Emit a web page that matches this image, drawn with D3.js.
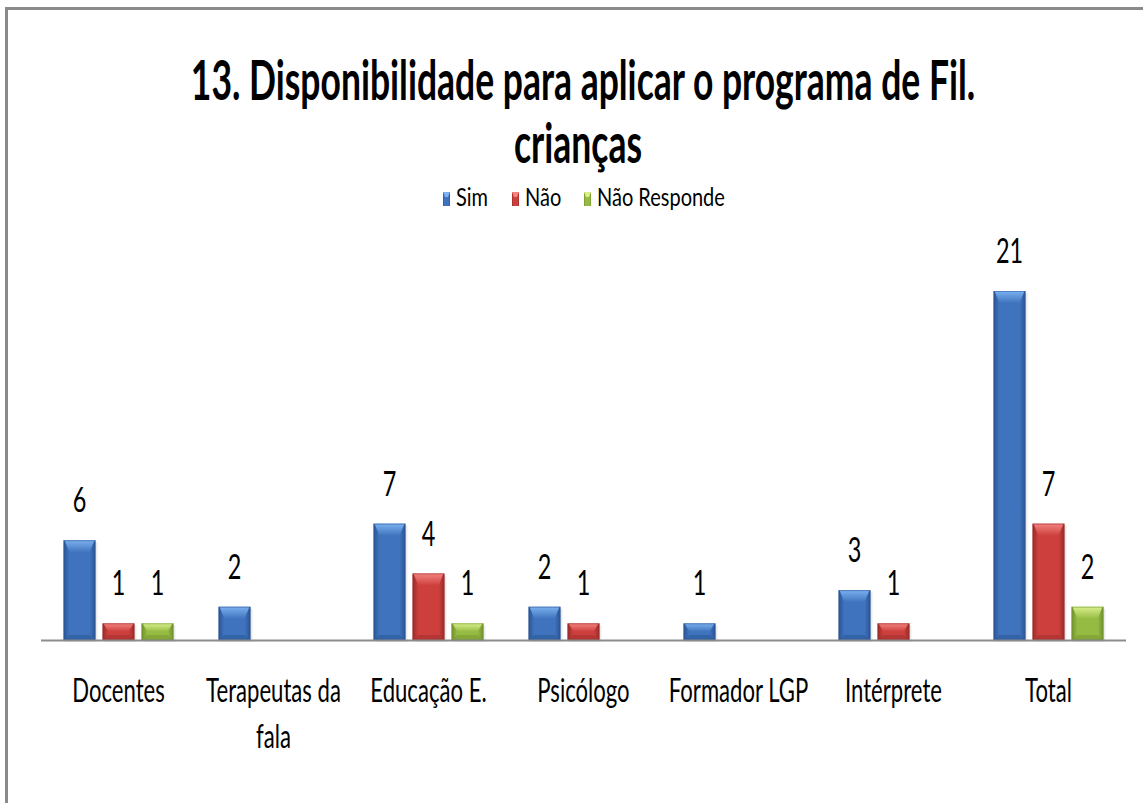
<!DOCTYPE html>
<html>
<head>
<meta charset="utf-8">
<script src="https://cdn.jsdelivr.net/npm/d3@7"></script>
<style>
  body { margin: 0; background: #fff; }
  text { font-family: Lato, "Open Sans", sans-serif; fill: #000; }
</style>
</head>
<body>
<div id="chart"></div>
<script>
var categories = ["Docentes", "Terapeutas da fala", "Educação E.", "Psicólogo", "Formador LGP", "Intérprete", "Total"];
var seriesNames = ["Sim", "Não", "Não Responde"];
var sim = [6, 2, 7, 2, 1, 3, 21];
var nao = [1, null, 4, 1, null, 1, 7];
var naoResponde = [1, null, 1, null, null, null, 2];
var titleLines = ["13. Disponibilidade para aplicar o programa de Fil.", "crianças"];

var W = 1143, H = 803;
var SX = 0.67;      // narrow text, like the original
var SX_TITLE = 0.634;
var SX_LEGEND = 0.8;

var colors = {
    "Sim": { mid: "#3f73bd", dark: "#2a5393", light: "#7bb2f0", base: "#2f5d9e" },
    "Não": { mid: "#cc3f3c", dark: "#972b29", light: "#f48482", base: "#a83331" },
    "Não Responde": { mid: "#96bb43", dark: "#6f8f2c", light: "#d8f08c", base: "#7d9e33" }
};

var svg = d3.select("#chart").append("svg")
    .attr("width", W)
    .attr("height", H);

var defs = svg.append("defs");
seriesNames.forEach(function (s, i) {
    var g = defs.append("linearGradient")
        .attr("id", "grad" + i)
        .attr("x1", "0").attr("x2", "1").attr("y1", "0").attr("y2", "0");
    g.append("stop").attr("offset", "0").attr("stop-color", colors[s].dark);
    g.append("stop").attr("offset", "0.18").attr("stop-color", colors[s].mid);
    g.append("stop").attr("offset", "0.82").attr("stop-color", colors[s].mid);
    g.append("stop").attr("offset", "1").attr("stop-color", colors[s].dark);
    var t = defs.append("linearGradient")
        .attr("id", "top" + i)
        .attr("x1", "0").attr("x2", "0").attr("y1", "0").attr("y2", "1");
    t.append("stop").attr("offset", "0").attr("stop-color", colors[s].light);
    t.append("stop").attr("offset", "1").attr("stop-color", colors[s].mid);
});

// outer frame
svg.append("rect")
    .attr("x", 6.5).attr("y", 8.5)
    .attr("width", W + 10).attr("height", H + 10)
    .attr("fill", "none")
    .attr("stroke", "#8a8a8a")
    .attr("stroke-width", 3);

function narrowText(sel, x, y, str, size, weight, sx) {
    return sel.append("text")
        .attr("transform", "translate(" + x + "," + y + ") scale(" + sx + ",1)")
        .attr("text-anchor", "middle")
        .style("font-size", size + "px")
        .style("font-weight", weight)
        .text(str);
}

// title
narrowText(svg, 583, 100, titleLines[0], 56, "bold", SX_TITLE);
narrowText(svg, 578, 163, titleLines[1], 56, "bold", SX_TITLE);

var data = categories.map(function (c, i) {
    return { cat: c, values: [sim[i], nao[i], naoResponde[i]] };
});

var x0 = d3.scaleBand()
    .domain(categories)
    .range([41, 1126]);

var x1 = d3.scaleBand()
    .domain(seriesNames)
    .range([0, 110])
    .paddingInner(7 / 39);

var y = d3.scaleLinear()
    .domain([0, 21])
    .range([640, 291]);

var groupOffset = (x0.bandwidth() - 110) / 2;

var groups = svg.append("g")
    .selectAll("g")
    .data(data)
    .enter()
    .append("g")
    .attr("transform", function (d) { return "translate(" + (x0(d.cat) + groupOffset) + ",0)"; });

groups.each(function (d) {
    var g = d3.select(this);
    d.values.forEach(function (v, i) {
        if (v == null) return;
        var s = seriesNames[i];
        var bx = x1(s), bw = x1.bandwidth();
        var top = y(v), bot = y(0);
        var h = bot - top;
        var bev = Math.min(bw * 0.38, h / 2);

        // shadow
        g.append("rect")
            .attr("x", bx + 2).attr("y", top + 2)
            .attr("width", bw).attr("height", h)
            .attr("fill", "#000").attr("opacity", 0.08);

        g.append("rect")
            .attr("x", bx).attr("y", top)
            .attr("width", bw).attr("height", h)
            .attr("fill", "url(#grad" + i + ")");

        // top bevel
        g.append("polygon")
            .attr("points", [
                [bx + 1, top], [bx + bw - 1, top],
                [bx + bw - 6, top + bev], [bx + 6, top + bev]
            ].map(function (p) { return p.join(","); }).join(" "))
            .attr("fill", "url(#top" + i + ")");

        // bottom bevel
        g.append("polygon")
            .attr("points", [
                [bx + 1, bot], [bx + bw - 1, bot],
                [bx + bw - 6, bot - Math.min(5, h / 3)], [bx + 6, bot - Math.min(5, h / 3)]
            ].map(function (p) { return p.join(","); }).join(" "))
            .attr("fill", colors[s].base).attr("opacity", 0.7);

        g.append("rect")
            .attr("x", bx + 0.5).attr("y", top + 0.5)
            .attr("width", bw - 1).attr("height", h - 1)
            .attr("fill", "none")
            .attr("stroke", colors[s].dark)
            .attr("stroke-opacity", 0.5);

        narrowText(g, bx + bw / 2, top - 28, v, 35, "normal", SX);
    });
});

// baseline
svg.append("line")
    .attr("x1", 41).attr("x2", 1126)
    .attr("y1", y(0) + 0.5).attr("y2", y(0) + 0.5)
    .attr("stroke", "#8c8c8c")
    .attr("stroke-width", 2);

// category labels
var catWrap = { "Terapeutas da fala": ["Terapeutas da", "fala"] };
categories.forEach(function (c) {
    var lines = catWrap[c] || [c];
    lines.forEach(function (l, k) {
        narrowText(svg, x0(c) + x0.bandwidth() / 2, 702 + k * 46, l, 33, "normal", SX);
    });
});

// legend
var legendX = [443, 512, 584];
seriesNames.forEach(function (s, i) {
    var lg = svg.append("g").attr("transform", "translate(" + legendX[i] + ",0)");
    lg.append("rect")
        .attr("x", 0).attr("y", 192)
        .attr("width", 7).attr("height", 14)
        .attr("fill", "url(#grad" + i + ")");
    lg.append("polygon")
        .attr("points", "0,192 7,192 5,197 2,197")
        .attr("fill", colors[s].light);
    lg.append("text")
        .attr("transform", "translate(13,206) scale(" + SX_LEGEND + ",1)")
        .style("font-size", "25px")
        .text(s);
});
</script>
</body>
</html>
